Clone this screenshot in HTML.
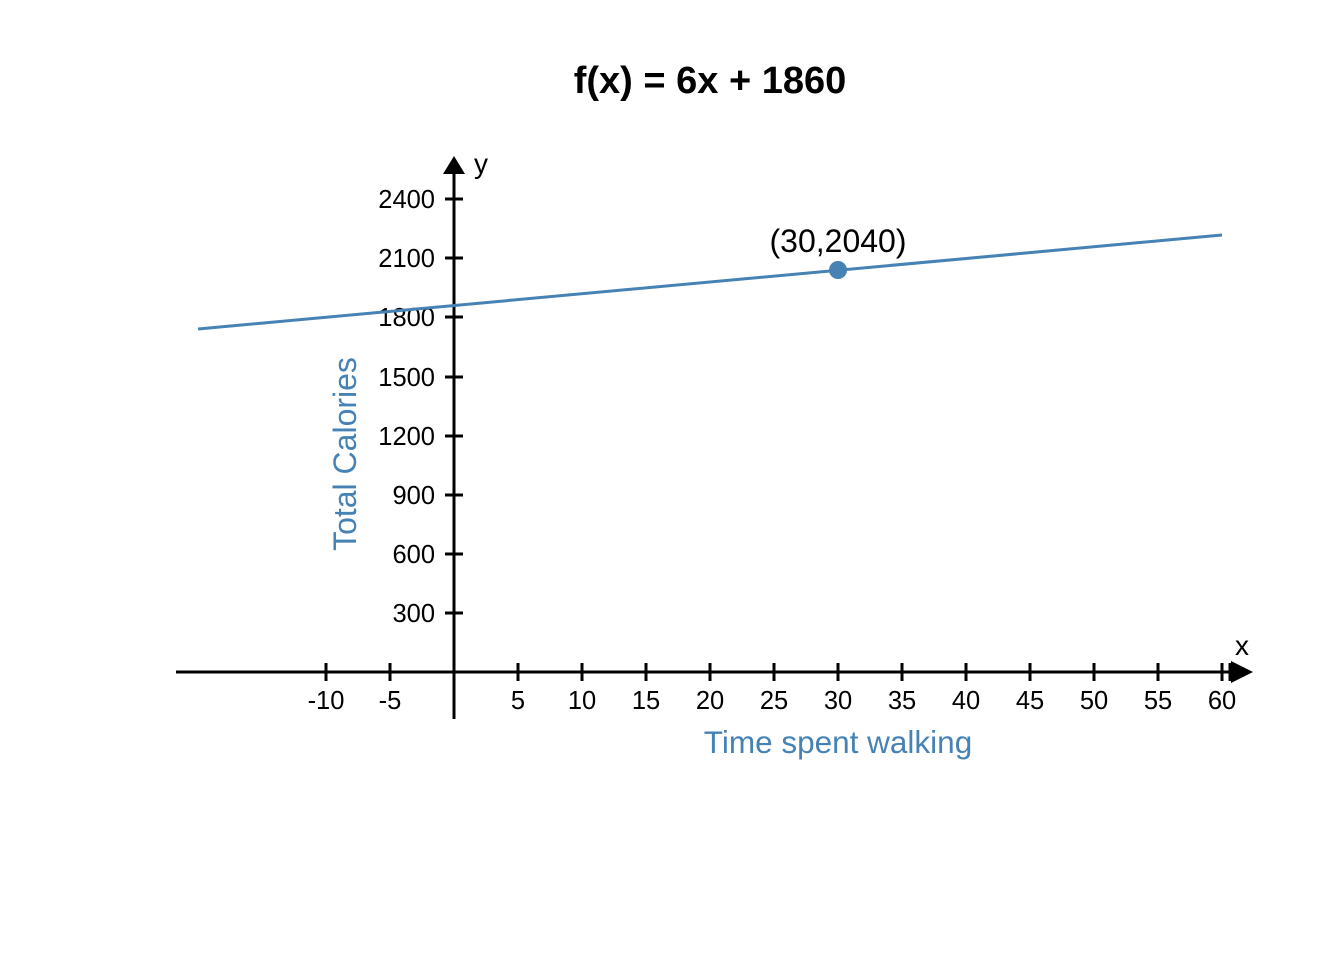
<!DOCTYPE html>
<html><head><meta charset="utf-8"><style>body{margin:0;background:#fff}svg{display:block}</style></head>
<body>
<svg width="1344" height="960" xmlns="http://www.w3.org/2000/svg" font-family="Liberation Sans, Arial, sans-serif">
<rect width="1344" height="960" fill="#fff"/>
<text x="710" y="93" font-size="38" font-weight="bold" text-anchor="middle">f(x) = 6x + 1860</text>
<g stroke="#000" stroke-width="3">
<line x1="176" y1="672" x2="1236" y2="672"/>
<line x1="454" y1="719" x2="454" y2="172"/>
<g>
<line x1="326" y1="663" x2="326" y2="681"/><line x1="390" y1="663" x2="390" y2="681"/>
<line x1="518" y1="663" x2="518" y2="681"/><line x1="582" y1="663" x2="582" y2="681"/>
<line x1="646" y1="663" x2="646" y2="681"/><line x1="710" y1="663" x2="710" y2="681"/>
<line x1="774" y1="663" x2="774" y2="681"/><line x1="838" y1="663" x2="838" y2="681"/>
<line x1="902" y1="663" x2="902" y2="681"/><line x1="966" y1="663" x2="966" y2="681"/>
<line x1="1030" y1="663" x2="1030" y2="681"/><line x1="1094" y1="663" x2="1094" y2="681"/>
<line x1="1158" y1="663" x2="1158" y2="681"/><line x1="1222" y1="663" x2="1222" y2="681"/>
<line x1="1230" y1="663" x2="1230" y2="681"/>
</g>
<g>
<line x1="445" y1="613" x2="463" y2="613"/><line x1="445" y1="554" x2="463" y2="554"/>
<line x1="445" y1="495" x2="463" y2="495"/><line x1="445" y1="436" x2="463" y2="436"/>
<line x1="445" y1="377" x2="463" y2="377"/><line x1="445" y1="317" x2="463" y2="317"/>
<line x1="445" y1="258" x2="463" y2="258"/><line x1="445" y1="199" x2="463" y2="199"/>
</g>
</g>
<polygon points="1253,672 1231,661 1231,683" fill="#000"/>
<polygon points="454,156 443,174 465,174" fill="#000"/>
<text x="1242" y="655" font-size="28" text-anchor="middle">x</text>
<text x="481" y="173" font-size="28" text-anchor="middle">y</text>
<g font-size="25.5" text-anchor="middle">
<text x="326" y="709">-10</text><text x="390" y="709">-5</text>
<text x="518" y="709">5</text><text x="582" y="709">10</text><text x="646" y="709">15</text>
<text x="710" y="709">20</text><text x="774" y="709">25</text><text x="838" y="709">30</text>
<text x="902" y="709">35</text><text x="966" y="709">40</text><text x="1030" y="709">45</text>
<text x="1094" y="709">50</text><text x="1158" y="709">55</text><text x="1222" y="709">60</text>
</g>
<g font-size="25.5" text-anchor="end">
<text x="435" y="622">300</text><text x="435" y="563">600</text><text x="435" y="504">900</text>
<text x="435" y="445">1200</text><text x="435" y="386">1500</text><text x="435" y="326">1800</text>
<text x="435" y="267">2100</text><text x="435" y="208">2400</text>
</g>
<line x1="198" y1="329" x2="1222" y2="235" stroke="#4682b4" stroke-width="3"/>
<circle cx="838" cy="270" r="9" fill="#4682b4"/>
<text x="838" y="252" font-size="32" text-anchor="middle">(30,2040)</text>
<text x="838" y="753" font-size="31.5" fill="#4682b4" text-anchor="middle">Time spent walking</text>
<text transform="translate(356,454) rotate(-90)" font-size="32" fill="#4682b4" text-anchor="middle">Total Calories</text>
</svg>
</body></html>
